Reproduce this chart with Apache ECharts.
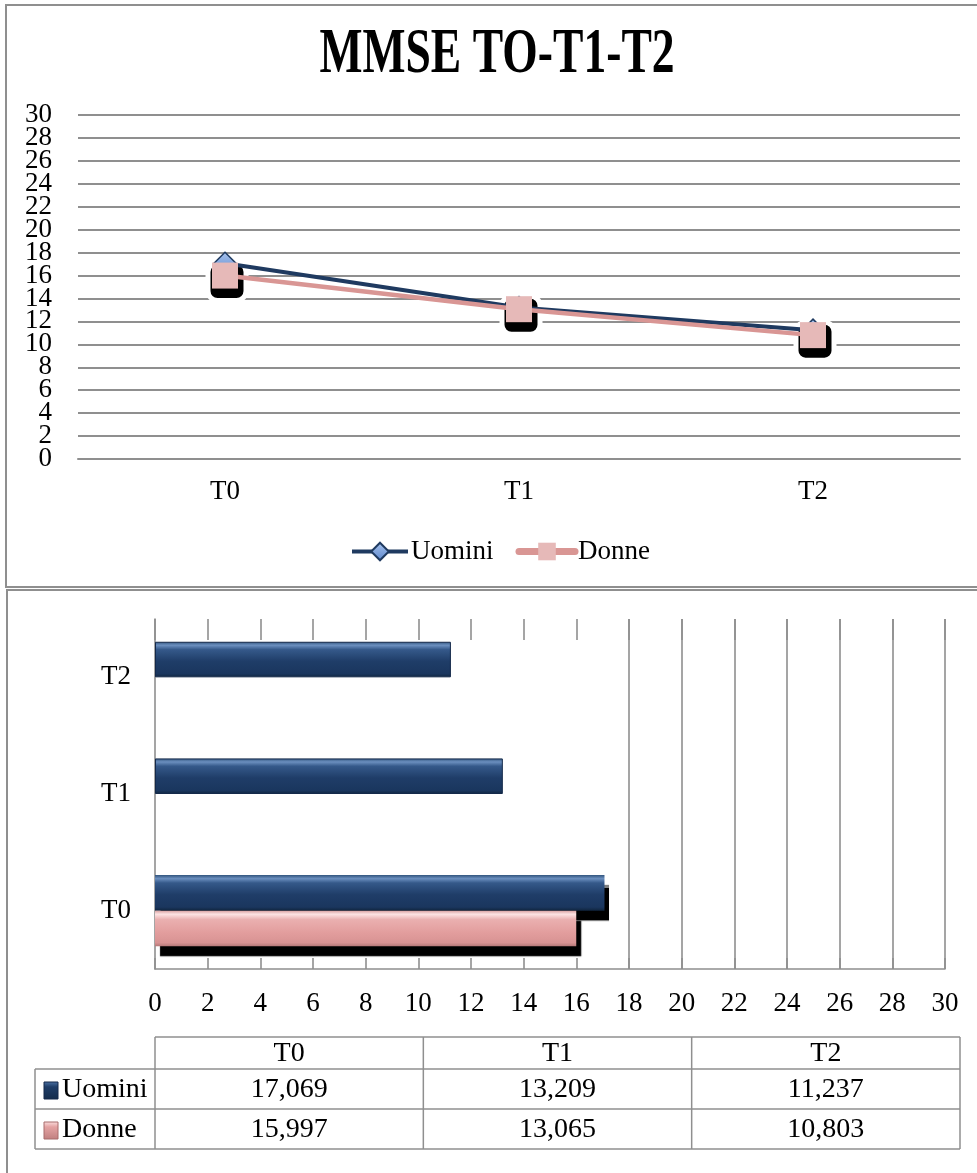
<!DOCTYPE html>
<html>
<head>
<meta charset="utf-8">
<script src="https://cdn.jsdelivr.net/npm/echarts@6/dist/echarts.min.js"></script>
<style>
  html, body { margin: 0; padding: 0; background: #ffffff; }
  #main { width: 977px; height: 1173px; }
</style>
</head>
<body>
<div id="main"></div>
<script>
// MMSE scores at the three time points, by sex
const categories = ['T0', 'T1', 'T2'];
const seriesNames = ['Uomini', 'Donne'];
const uomini = [17.069, 13.209, 11.237];
const donne = [15.997, 13.065, 10.803];
const axisTicks = [0, 2, 4, 6, 8, 10, 12, 14, 16, 18, 20, 22, 24, 26, 28, 30];
const titleText = 'MMSE TO-T1-T2';
// in the bar panel the women's bar is only drawn for the first time point
const donneBarShown = [true, false, false];

const FONT = "'Liberation Serif', 'DejaVu Serif', serif";
const GRID_GRAY = '#8f8f8f';
const NAVY = '#1f3a60';
const PINK_LINE = '#d99694';
const PINK_FILL = '#e6b9b8';

const chart = echarts.init(document.getElementById('main'), null, { renderer: 'canvas' });

const fmt = v => v.toFixed(3).replace('.', ',');

// --- data table under the bar panel ---
const tLeft = 155, tRight = 960, tRowLabelLeft = 35;
const rowEdges = [1037, 1069, 1109, 1149];
const colW = (tRight - tLeft) / categories.length;
const tableEls = [];
const lineStyle = { stroke: GRID_GRAY, lineWidth: 1.5 };
rowEdges.forEach((y, i) => {
  tableEls.push({ type: 'line', shape: { x1: i === 0 ? tLeft : tRowLabelLeft, y1: y, x2: tRight, y2: y }, style: lineStyle, silent: true });
});
for (let c = 0; c <= categories.length; c++) {
  const x = tLeft + c * colW;
  tableEls.push({ type: 'line', shape: { x1: x, y1: rowEdges[0], x2: x, y2: rowEdges[3] }, style: lineStyle, silent: true });
}
tableEls.push({ type: 'line', shape: { x1: tRowLabelLeft, y1: rowEdges[1], x2: tRowLabelLeft, y2: rowEdges[3] }, style: lineStyle, silent: true });
categories.forEach((c, i) => {
  tableEls.push({ type: 'text', x: tLeft + (i + 0.5) * colW, y: (rowEdges[0] + rowEdges[1]) / 2 + 1,
    style: { text: c, font: '28px ' + FONT, fill: '#000', align: 'center', verticalAlign: 'middle' }, silent: true });
});
const swatchFills = [
  new echarts.graphic.LinearGradient(0, 0, 0, 1, [{ offset: 0, color: '#4d73a6' }, { offset: 0.3, color: '#1f3d68' }, { offset: 1, color: '#142c4c' }]),
  new echarts.graphic.LinearGradient(0, 0, 0, 1, [{ offset: 0, color: '#fbe0e0' }, { offset: 0.3, color: '#e4a3a3' }, { offset: 1, color: '#c07f7f' }])
];
[uomini, donne].forEach((vals, r) => {
  const yc = (rowEdges[r + 1] + rowEdges[r + 2]) / 2 + 1;
  tableEls.push({ type: 'rect', shape: { x: 44, y: yc - 8, width: 14, height: 17 },
    style: { fill: swatchFills[r], stroke: r === 0 ? '#14294a' : '#a86d6d', lineWidth: 1 }, silent: true });
  tableEls.push({ type: 'text', x: 62, y: yc,
    style: { text: seriesNames[r], font: '28px ' + FONT, fill: '#000', align: 'left', verticalAlign: 'middle' }, silent: true });
  vals.forEach((v, i) => {
    tableEls.push({ type: 'text', x: tLeft + (i + 0.5) * colW, y: yc,
      style: { text: fmt(v), font: '28px ' + FONT, fill: '#000', align: 'center', verticalAlign: 'middle' }, silent: true });
  });
});

const uominiBarFill = new echarts.graphic.LinearGradient(0, 0, 0, 1, [
  { offset: 0, color: '#33567f' }, { offset: 0.1, color: '#6b8fbf' }, { offset: 0.22, color: '#35598a' },
  { offset: 0.55, color: '#1f3d68' }, { offset: 0.9, color: '#1a365e' }, { offset: 1, color: '#10253f' }
]);
const donneBarFill = new echarts.graphic.LinearGradient(0, 0, 0, 1, [
  { offset: 0, color: '#d9a2a2' }, { offset: 0.1, color: '#fde3e3' }, { offset: 0.25, color: '#eab0b0' },
  { offset: 0.6, color: '#e39e9e' }, { offset: 0.9, color: '#d89393' }, { offset: 1, color: '#b57878' }
]);
// the first time point's bars carry a hard drop shadow
const barItemStyle = (fill, edge, i) => i === 0
  ? { color: fill, borderWidth: 0, shadowColor: '#000', shadowBlur: 1, shadowOffsetX: 5, shadowOffsetY: 10 }
  : { color: fill, borderColor: edge, borderWidth: 1 };

// the line panel's value labels sit closer than their glyph height, so they are
// split over two coincident axes (alternate ticks) to keep every label visible
const valueLabel = keepRemainder => ({
  fontSize: 27, fontFamily: FONT, color: '#000', margin: 26,
  showMinLabel: true, showMaxLabel: true,
  formatter: v => (v % 4 === keepRemainder ? String(v) : '')
});

const option = {
  backgroundColor: '#ffffff',
  animation: false,
  textStyle: { fontFamily: FONT },
  graphic: [
    { type: 'rect', shape: { x: 6, y: 5, width: 1000, height: 582 }, style: { fill: 'none', stroke: GRID_GRAY, lineWidth: 2 }, silent: true, z: -10 },
    { type: 'rect', shape: { x: 7, y: 590, width: 1000, height: 700 }, style: { fill: 'none', stroke: GRID_GRAY, lineWidth: 2 }, silent: true, z: -10 },
    { type: 'text', x: 497, y: 56, scaleX: 0.724, originX: 0, originY: 0,
      style: { text: titleText, font: 'bold 63px ' + FONT, fill: '#000', align: 'center', verticalAlign: 'middle' }, silent: true },
    ...tableEls
  ],
  legend: {
    data: [
      { name: seriesNames[0], lineStyle: { width: 4, color: NAVY } },
      { name: seriesNames[1], lineStyle: { width: 7, color: PINK_LINE, cap: 'round' } }
    ],
    top: 533,
    left: 345,
    itemWidth: 56,
    itemHeight: 22,
    itemGap: 22,
    textStyle: { fontSize: 27, fontFamily: FONT, color: '#000', padding: [0, 0, 0, -2] }
  },
  grid: [
    { left: 78, top: 115, width: 882, height: 344 },
    { left: 155, top: 619, width: 790, height: 350 }
  ],
  xAxis: [
    {
      type: 'category', gridIndex: 0, data: categories,
      axisLine: { lineStyle: { color: GRID_GRAY, width: 2 } },
      axisTick: { show: false },
      axisLabel: { fontSize: 27, fontFamily: FONT, color: '#000', margin: 19 }
    },
    {
      type: 'value', gridIndex: 1, min: 0, max: 30, interval: 2, position: 'bottom',
      axisLine: { show: true, lineStyle: { color: GRID_GRAY, width: 1.6 } },
      axisTick: { show: true, inside: true, length: 11, lineStyle: { color: GRID_GRAY, width: 1.6 } },
      axisLabel: { fontSize: 27, fontFamily: FONT, color: '#000', margin: 21, showMinLabel: true, showMaxLabel: true },
      splitLine: { show: false }
    },
    {
      type: 'value', gridIndex: 1, min: 0, max: 30, interval: 2, position: 'top',
      axisLine: { show: false },
      axisTick: { show: true, inside: true, length: 21, lineStyle: { color: GRID_GRAY, width: 1.6 } },
      axisLabel: { show: false },
      splitLine: { show: false }
    }
  ],
  yAxis: [
    {
      type: 'value', gridIndex: 0, min: 0, max: 30, interval: 2, position: 'left',
      axisLine: { show: false }, axisTick: { show: false },
      axisLabel: valueLabel(0),
      splitLine: { lineStyle: { color: GRID_GRAY, width: 2 } }
    },
    {
      type: 'value', gridIndex: 0, min: 0, max: 30, interval: 2, position: 'left', offset: 0,
      axisLine: { show: false }, axisTick: { show: false },
      axisLabel: valueLabel(2),
      splitLine: { show: false }
    },
    {
      type: 'category', gridIndex: 1, data: categories,
      axisLine: { show: true, lineStyle: { color: GRID_GRAY, width: 1.6 } },
      axisTick: { show: false },
      axisLabel: { fontSize: 27, fontFamily: FONT, color: '#000', margin: 24 }
    }
  ],
  series: [
    // dark drop shadow under the women's markers
    {
      name: 'ombra', type: 'scatter', xAxisIndex: 0, yAxisIndex: 0,
      data: donne, symbol: 'roundRect', symbolSize: 38, symbolOffset: [2, 6],
      itemStyle: { color: '#000', borderColor: '#fff', borderWidth: 5, opacity: 1 },
      emphasis: { disabled: true },
      silent: true, z: 1
    },
    {
      name: seriesNames[0], type: 'line', xAxisIndex: 0, yAxisIndex: 0,
      data: uomini, symbol: 'diamond', symbolSize: 22, showSymbol: true,
      lineStyle: { color: NAVY, width: 4 },
      itemStyle: {
        color: new echarts.graphic.LinearGradient(0, 0, 0, 1, [{ offset: 0, color: '#a9c4ee' }, { offset: 1, color: '#5b86cc' }]),
        borderColor: NAVY, borderWidth: 1.5
      },
      z: 2
    },
    {
      name: seriesNames[1], type: 'line', xAxisIndex: 0, yAxisIndex: 0,
      data: donne, symbol: 'rect', symbolSize: 26, showSymbol: true,
      lineStyle: { color: PINK_LINE, width: 4.5 },
      itemStyle: { color: PINK_FILL, borderWidth: 0 },
      z: 3
    },
    // bar panel: first series sits on top within each band
    {
      name: 'Uomini bar', type: 'bar', xAxisIndex: 1, yAxisIndex: 2,
      barGap: '0%', barCategoryGap: '39%',
      data: uomini.map((v, i) => ({ value: v, itemStyle: barItemStyle(uominiBarFill, '#14294a', i) })),
      markLine: {
        silent: true, symbol: 'none', label: { show: false },
        lineStyle: { color: GRID_GRAY, width: 1.6, type: 'solid' },
        emphasis: { disabled: true },
        data: axisTicks.filter(v => v >= 18).map(v => ({ xAxis: v }))
      },
      z: 2
    },
    {
      name: 'Donne bar', type: 'bar', xAxisIndex: 1, yAxisIndex: 2,
      barGap: '0%', barCategoryGap: '39%',
      data: donne.map((v, i) => donneBarShown[i]
        ? { value: v, itemStyle: barItemStyle(donneBarFill, '#b07474', i) }
        : '-'),
      z: 2
    }
  ]
};

chart.setOption(option);
</script>
</body>
</html>
